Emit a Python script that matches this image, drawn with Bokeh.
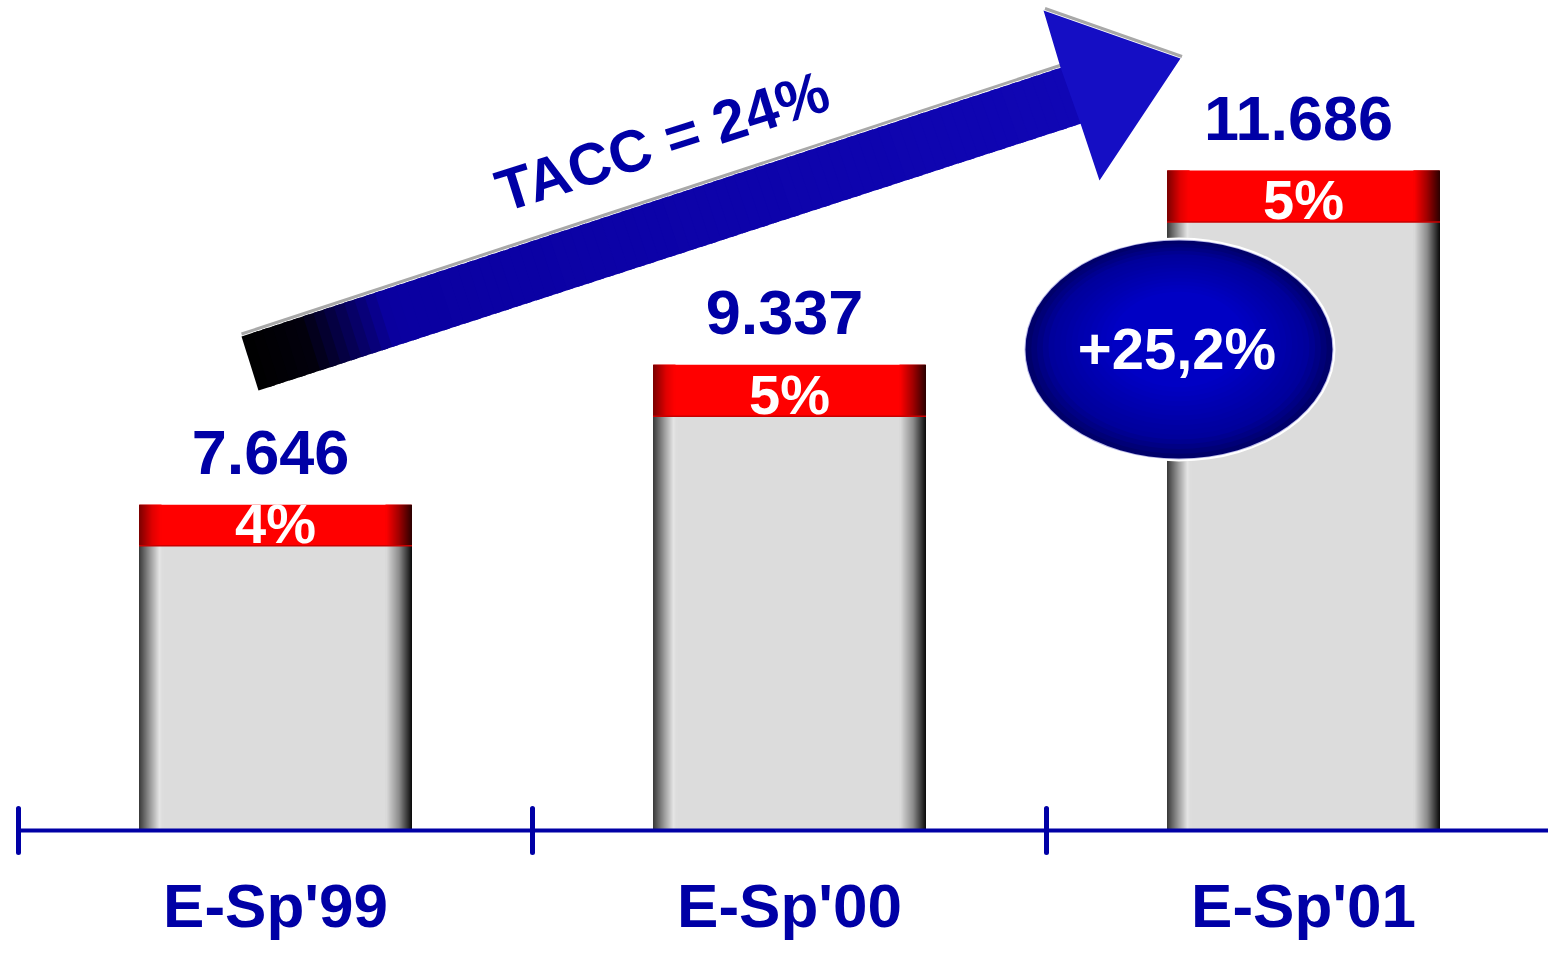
from bokeh.plotting import figure
from bokeh.models import Range1d, FixedTicker, ColumnDataSource
from bokeh.core.properties import value
from bokeh.embed import file_html
from bokeh.resources import INLINE

# ---------------- data ----------------
categories = ["E-Sp'99", "E-Sp'00", "E-Sp'01"]
values = [7646, 9337, 11686]
value_labels = ["7.646", "9.337", "11.686"]
shares = [4, 5, 5]
share_labels = ["4%", "5%", "5%"]
growth_label = "+25,2%"
cagr_label = "TACC = 24%"

# ---------------- layout / scale ----------------
W, H = 1548, 944
FRAME_H = 830                 # axis line position (px from top)
BOTTOM_BORDER = H - FRAME_H
PX_PER_CAT = 514.0
X0_PX = 18.0
x_start = -X0_PX / PX_PER_CAT
x_end = x_start + W / PX_PER_CAT
Y_BASE = 3706
UNITS_PER_PX = 12.093
y_end = Y_BASE + FRAME_H * UNITS_PER_PX
ux = 1.0 / PX_PER_CAT
uy = UNITS_PER_PX

BLUE = "#0000A6"
FONT = value("Liberation Sans")
BAR_W = 273 * ux
CAP_PER_PCT = 124.0

xs = [i + 0.5 for i in range(len(categories))]
caps = [s * CAP_PER_PCT for s in shares]
cap_bottoms = [v - c for v, c in zip(values, caps)]


def hex2rgb(h):
    h = h.lstrip("#")
    return tuple(int(h[i:i + 2], 16) for i in (0, 2, 4))


def lerp(c1, c2, t):
    a, b = hex2rgb(c1), hex2rgb(c2)
    return "#%02x%02x%02x" % tuple(int(round(a[i] + (b[i] - a[i]) * t)) for i in range(3))


def multi_lerp(stops, t):
    for (t0, c0), (t1, c1) in zip(stops[:-1], stops[1:]):
        if t <= t1:
            return lerp(c0, c1, (t - t0) / (t1 - t0) if t1 > t0 else 0)
    return stops[-1][1]


p = figure(width=W, height=H,
           x_range=Range1d(x_start, x_end), y_range=Range1d(Y_BASE, y_end),
           y_axis_location=None, toolbar_location=None, output_backend="svg",
           min_border_left=0, min_border_right=0, min_border_top=0,
           min_border_bottom=BOTTOM_BORDER)
p.outline_line_color = None
p.xgrid.visible = False
p.ygrid.visible = False
p.background_fill_color = "white"
p.border_fill_color = "white"

# ---------------- bars ----------------
p.vbar(x=xs, width=BAR_W, bottom=Y_BASE, top=cap_bottoms,
       fill_color="#DCDCDC", line_color=None)
p.vbar(x=xs, width=BAR_W, bottom=cap_bottoms, top=values,
       fill_color="#FF0000", line_color=None)

strips = dict(left=[], right=[], bottom=[], top=[], color=[])


def add_edges(xc, b, t, left_stops, left_px, right_stops, right_px):
    step = 1.0
    n = int(left_px)
    for k in range(n):
        l = xc - BAR_W / 2 + k * step * ux
        strips["left"].append(l)
        strips["right"].append(l + (step + 0.8) * ux)
        strips["bottom"].append(b)
        strips["top"].append(t)
        strips["color"].append(multi_lerp(left_stops, (k + 0.5) / n))
    n = int(right_px)
    for k in range(n):
        r = xc + BAR_W / 2 - k * step * ux
        strips["left"].append(r - (step + 0.8) * ux)
        strips["right"].append(r)
        strips["bottom"].append(b)
        strips["top"].append(t)
        strips["color"].append(multi_lerp(right_stops, (k + 0.5) / n))


for xc, v, cb in zip(xs, values, cap_bottoms):
    add_edges(xc, Y_BASE, cb,
              [(0, "#383838"), (0.5, "#a0a0a0"), (0.85, "#e4e4e4"), (1, "#dcdcdc")], 24,
              [(0, "#080808"), (0.5, "#8c8c8c"), (1, "#dcdcdc")], 26)
    add_edges(xc, cb, v,
              [(0, "#7a0000"), (0.6, "#e00000"), (1, "#ff0000")], 22,
              [(0, "#2a0000"), (0.5, "#a00000"), (1, "#ff0000")], 26)

p.quad(left="left", right="right", bottom="bottom", top="top",
       fill_color="color", line_color=None, source=ColumnDataSource(strips))
# thin darker line under red caps
p.segment(x0=[x - BAR_W / 2 for x in xs], x1=[x + BAR_W / 2 for x in xs],
          y0=cap_bottoms, y1=cap_bottoms, line_color="#c80000", line_width=1.5)

# ---------------- value and share labels ----------------
p.text(x=xs, y=values, text=value_labels, text_align="center",
       text_baseline="alphabetic", x_offset=-5, y_offset=-52,
       text_font=FONT, text_font_style="bold", text_font_size="63px",
       text_color=BLUE)
p.text(x=xs, y=cap_bottoms, text=share_labels, text_align="center",
       text_baseline="alphabetic", y_offset=-22,
       text_font=FONT, text_font_style="bold", text_font_size="56px",
       text_color="white")

# ---------------- trend arrow ----------------
A = (0.4339, 9680)    # tail top
B = (0.4669, 9027)    # tail bottom
C = (2.0681, 12256)   # shaft bottom junction
D = (2.0292, 12933)   # shaft top junction
HT = (1.9942, 13622)  # head top corner
TIP = (2.2607, 13042)
HB = (2.1031, 11566)  # head bottom corner

# grey highlight along upper edges
p.line(x=[A[0], D[0]], y=[A[1] + 2.5 * uy, D[1] + 2.5 * uy], line_color="#a8a8a8", line_width=3)
p.line(x=[HT[0] + 1.5 * ux, TIP[0] + 1.5 * ux], y=[HT[1] + 2 * uy, TIP[1] + 2 * uy],
       line_color="#a8a8a8", line_width=3)

shaft_stops = [(0, "#000000"), (0.07, "#02000c"), (0.17, "#0a00a0"), (1.0, "#1006b4")]
N = 80
xs_list, ys_list, cols = [], [], []
for k in range(N):
    t0 = k / N
    t1 = min(1.0, (k + 1.6) / N)
    a0 = (A[0] + t0 * (D[0] - A[0]), A[1] + t0 * (D[1] - A[1]))
    a1 = (A[0] + t1 * (D[0] - A[0]), A[1] + t1 * (D[1] - A[1]))
    b0 = (B[0] + t0 * (C[0] - B[0]), B[1] + t0 * (C[1] - B[1]))
    b1 = (B[0] + t1 * (C[0] - B[0]), B[1] + t1 * (C[1] - B[1]))
    xs_list.append([a0[0], a1[0], b1[0], b0[0]])
    ys_list.append([a0[1], a1[1], b1[1], b0[1]])
    cols.append(multi_lerp(shaft_stops, (k + 0.5) / N))
p.patches(xs=xs_list, ys=ys_list, fill_color=cols, line_color=None)
p.patch(x=[D[0] - 1 * ux, HT[0], TIP[0], HB[0], C[0] - 1 * ux],
        y=[D[1], HT[1], TIP[1], HB[1], C[1]],
        fill_color="#150ec4", line_color=None)

p.text(x=[1.2607 - 4 * ux], y=[11784 + 21 * uy], text=[cagr_label], angle=17.5,
       angle_units="deg", text_align="center", text_baseline="alphabetic",
       text_font=FONT, text_font_style="bold", text_font_size="59px",
       text_color=BLUE)

# ---------------- growth bubble ----------------
EX, EY = 2.2577, 9523
EW, EH = 307, 218
p.ellipse(x=[EX], y=[EY], width=[EW + 6], height=[EH + 6],
          width_units="screen", height_units="screen",
          fill_color="white", line_color=None)
p.ellipse(x=[EX], y=[EY], width=[EW + 2], height=[EH + 2],
          width_units="screen", height_units="screen",
          fill_color="#b8b8e8", line_color=None)
NL = 16
for k in range(NL):
    s = 1.0 - 0.6 * k / NL
    col = multi_lerp([(0, "#00006a"), (0.25, "#00009a"), (1, "#0000c4")], k / (NL - 1))
    p.ellipse(x=[EX], y=[EY + (1 - s) * 18 * uy], width=[EW * s], height=[EH * s],
              width_units="screen", height_units="screen",
              fill_color=col, line_color=None)
p.text(x=[EX], y=[EY], text=[growth_label], text_align="center",
       text_baseline="alphabetic", x_offset=-2, y_offset=-1,
       text_font=FONT, text_font_style="bold", text_font_size="58px",
       text_color="white")

# ---------------- category axis ----------------
ax = p.xaxis[0]
ax.ticker = FixedTicker(ticks=xs, minor_ticks=list(range(len(categories) + 1)))
ax.major_label_overrides = {x: c for x, c in zip(xs, categories)}
ax.bounds = (0, len(categories))
ax.axis_line_color = BLUE
ax.axis_line_width = 4
ax.major_tick_line_color = None
ax.major_tick_in = 0
ax.major_tick_out = 0
ax.minor_tick_line_color = BLUE
ax.minor_tick_line_width = 5
ax.minor_tick_line_cap = "round"
ax.minor_tick_in = 22
ax.minor_tick_out = 22
ax.major_label_standoff = 18
ax.major_label_text_font = "Liberation Sans"
ax.major_label_text_font_style = "bold"
ax.major_label_text_font_size = "62px"
ax.major_label_text_color = BLUE

open("out.html", "w").write(file_html(p, INLINE))
